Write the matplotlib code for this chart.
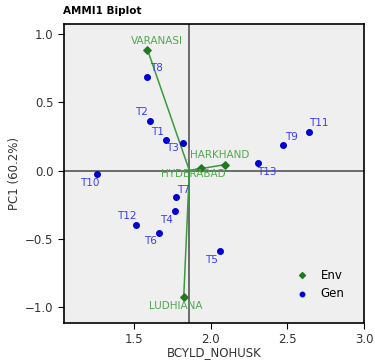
"""AMMI1 biplot: yield vs PC1 scores for environments and genotypes."""

import matplotlib

matplotlib.use("Agg")
import matplotlib.pyplot as plt

# environment scores
env_names = ["VARANASI", "HYDERABAD", "JHARKHAND", "LUDHIANA"]
env_yield = [1.589, 1.94, 2.095, 1.825]
env_pc1 = [0.886, 0.016, 0.043, -0.93]

# genotype scores
gen_names = ["T1", "T2", "T3", "T4", "T5", "T6", "T7",
             "T8", "T9", "T10", "T11", "T12", "T13"]
gen_yield = [1.71, 1.604, 1.82, 1.77, 2.06, 1.667, 1.773,
             1.586, 2.47, 1.26, 2.643, 1.513, 2.31]
gen_pc1 = [0.224, 0.365, 0.202, -0.297, -0.593, -0.456, -0.192,
           0.685, 0.185, -0.023, 0.285, -0.40, 0.057]

grand_mean = 1.862

# label offsets in points (dx, dy)
env_offsets = {"VARANASI": (6.5, 6.3), "HYDERABAD": (-5.5, -4.3),
               "JHARKHAND": (-4.5, 6.8), "LUDHIANA": (-6, -6.3)}
gen_offsets = {"T1": (-6.5, 6), "T2": (-6.3, 6), "T3": (-7.6, -3.8),
               "T4": (-6.5, -6.5), "T5": (-6, -6.3), "T6": (-6.3, -6),
               "T7": (5.5, 4.8), "T8": (6.5, 6.3), "T9": (6.5, 6.2),
               "T10": (-5.5, -6.5), "T11": (6.7, 6), "T12": (-6.3, 6.5),
               "T13": (6.5, -6.9)}

env_color = "#1f7a1f"
env_text = "#52a852"
gen_color = "#0000d0"
gen_text = "#3b3bff"

fig = plt.figure(figsize=(3.75, 3.62), dpi=100)
ax = fig.add_axes([0.1707, 0.1077, 0.8, 0.826])
ax.set_facecolor("#efefef")

ax.axvline(grand_mean, color="#555555", lw=1.2, zorder=1)
ax.axhline(0, color="#555555", lw=1.2, zorder=1)

for x, y in zip(env_yield, env_pc1):
    ax.plot([grand_mean, x], [0, y], color="#3a9a3a", lw=1.1, zorder=2)

ax.scatter(env_yield, env_pc1, marker="D", s=14, color=env_color,
           zorder=3, label="Env")
ax.scatter(gen_yield, gen_pc1, marker="o", s=16, color=gen_color,
           zorder=3, label="Gen")

for name, x, y in zip(env_names, env_yield, env_pc1):
    ax.annotate(name, (x, y), xytext=env_offsets[name], textcoords="offset points",
                ha="center", va="center", fontsize=7.5, color=env_text)
for name, x, y in zip(gen_names, gen_yield, gen_pc1):
    ax.annotate(name, (x, y), xytext=gen_offsets[name], textcoords="offset points",
                ha="center", va="center", fontsize=7.5, color=gen_text)

ax.set_xlim(1.045, 3.0)
ax.set_ylim(-1.118, 1.074)
ax.set_xticks([1.5, 2.0, 2.5, 3.0])
ax.set_yticks([-1.0, -0.5, 0.0, 0.5, 1.0])
ax.tick_params(labelsize=8.5, labelcolor="#333333", length=4)
for s in ax.spines.values():
    s.set_linewidth(1.2)

ax.set_xlabel("BCYLD_NOHUSK", fontsize=8.5, color="#333333", labelpad=0)
ax.set_ylabel("PC1 (60.2%)", fontsize=8.5, color="#333333", labelpad=3)
fig.text(0.168, 0.957, "AMMI1 Biplot", fontsize=7.5, fontweight="bold",
         ha="left", va="bottom")

ax.legend(loc="lower right", frameon=False, fontsize=8.5, markerscale=0.8,
          handletextpad=0.6, labelspacing=0.5, bbox_to_anchor=(0.97, 0.04))

fig.savefig("out.png", dpi=100)
